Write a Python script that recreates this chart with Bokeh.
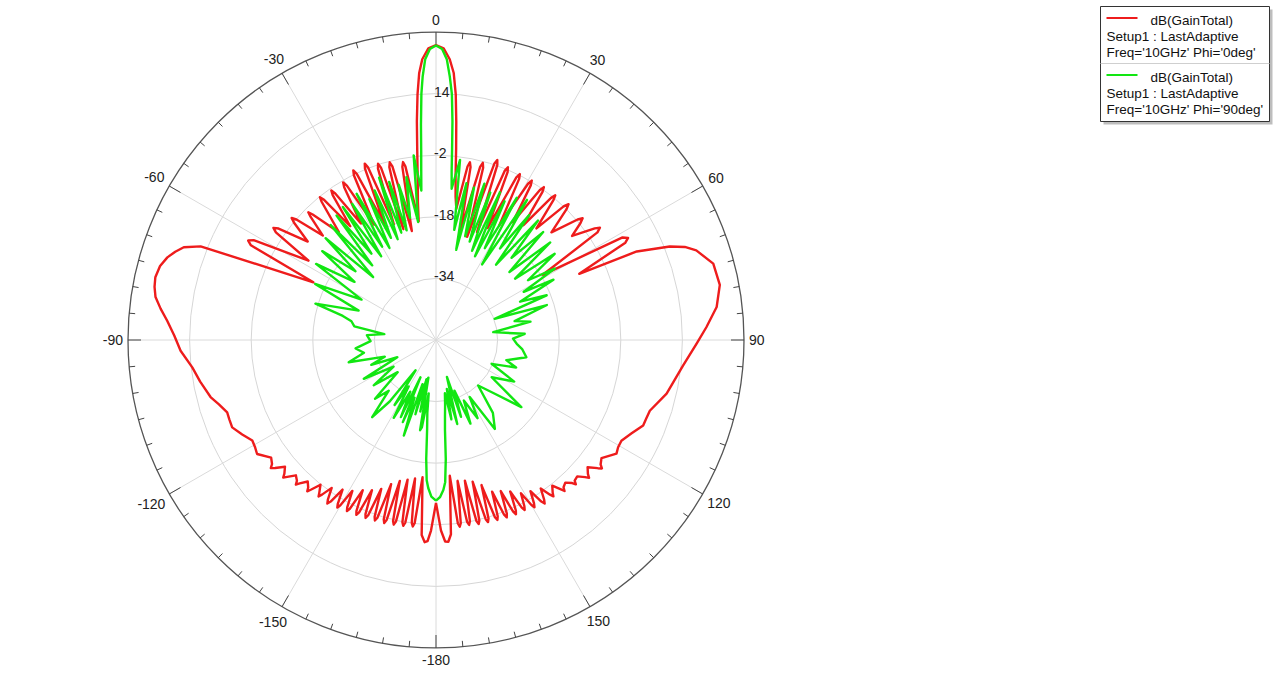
import numpy as np
from bokeh.plotting import figure
from bokeh.embed import file_html
from bokeh.resources import INLINE
from bokeh.core.properties import value

# ---------------- data (theta in degrees, gain in dB) ----------------
# Phi = 0deg, theta -180 .. 0
red_theta_neg = [
    -180, -178.5, -177.6, -176.8, -175.8, -174.4,
    -173.35, -172.9, -172.45, -171.4, -170.45, -170.0, -169.55, -168.5,
    -167.55, -167.1, -166.65, -165.6, -164.65, -164.2, -163.75, -162.7,
    -161.75, -161.3, -160.85, -159.8, -158.85, -158.4, -157.95, -156.9,
    -155.95, -155.5, -155.05, -154.0, -152.95, -152.5, -152.05, -151.0,
    -149.95, -149.5, -149.05, -148.0, -146.9, -146.4, -145.9, -144.8,
    -143.6, -143.1, -142.6, -141.4, -140.1, -139.6, -139.1, -137.8,
    -136.45, -135.9, -135.35, -134.0, -132.6, -132.0, -131.4, -130.0,
    -128.5, -127.8, -127.1, -125.5, -122.5, -120.5, -118.7, -116.0, -113.2, -111.0,
    -109.1, -106.5, -104.2, -100.0, -96.4, -92.4, -89.0, -85.9, -83.5, -81.3, -79.3,
    -77.4, -75.0, -72.9, -71.3, -69.8, -68.3, -64.8,
    -62.9, -62.1, -61.3, -58.1, -56.1, -55.4, -54.7, -52.5, -50.4, -49.8, -49.2, -47.3,
    -45.5, -45.0, -44.5, -42.0, -39.6, -39.1, -38.6, -37.0, -35.5, -35.0, -34.5, -32.8,
    -31.0, -30.5, -30.0, -28.2, -26.5, -26.0, -25.5, -24.0, -22.5, -22.0, -21.5, -20.0,
    -18.7, -18.2, -17.7, -16.4, -15.1, -14.6, -14.1, -12.5, -11.0, -10.5, -10.0,
    -8.3, -7.5, -6.5, -5.6, -5.0, -4.3, -3.6, -2.8, -1.5,
]
red_db_neg = [
    -7.7, -0.5, 2.3, 2.6, 0.8, -14.2,
    -2.1, -1.2, -2.1, -13.6, -1.9, -1.0, -1.9, -13.0,
    -1.7, -0.8, -1.7, -12.2, -1.5, -0.6, -1.5, -10.8,
    -1.4, -0.5, -1.4, -8.8, -1.2, -0.3, -1.2, -7.6,
    -1.0, -0.1, -1.0, -6.6, -0.8, 0.1, -0.8, -5.2,
    -0.4, 0.5, -0.4, -4.2, 0.1, 1.0, 0.1, -3.0,
    -0.1, 0.8, -0.1, -1.9, 0.7, 1.6, 0.7, -0.4,
    1.4, 2.3, 1.4, 0.6, 2.5, 3.4, 2.5, 1.2,
    3.4, 4.3, 3.4, 2.6, 5.1, 4.6, 4.4, 6.0, 7.6, 7.5,
    7.4, 8.8, 10.4, 12.2, 13.7, 16.4, 18.0, 20.0, 22.0, 23.7, 24.4,
    24.7, 24.2, 23.0, 21.5, 19.8, 15.8, -14.8,
    4.0, 5.2, 4.0, -11.0, 0.1, 1.3, 0.1, -8.0, -2.1, -0.9, -2.1, -10.0,
    -4.3, -3.1, -4.3, -12.3, -3.4, -2.2, -3.4, -13.0, -3.8, -2.6, -3.8, -14.0,
    -3.7, -2.5, -3.7, -16.0, -2.2, -1.0, -2.2, -17.0, -1.8, -0.6, -1.8, -18.0,
    -3.0, -1.8, -3.0, -20.0, -3.5, -2.3, -3.5, -21.0, -4.2, -3.0, -4.2,
    -18.8, -14.0, -8.0, 0.0, 7.0, 14.0, 19.5, 23.0, 25.8,
]
# Phi = 0deg, theta 0 .. 180
red_theta_pos = [
    0, 1.5, 2.8, 3.8, 4.6, 5.3, 6.0, 6.8, 7.8, 8.8,
    10.3, 10.8, 11.3, 12.6, 14.3, 14.8, 15.3, 16.8, 18.3, 18.8, 19.3, 20.8,
    22.1, 22.6, 23.1, 24.7, 26.3, 26.8, 27.3, 28.9, 30.5, 31.0, 31.5, 33.1,
    34.7, 35.2, 35.7, 37.3, 39.0, 39.5, 40.0, 42.0, 43.7, 44.3, 44.9, 47.0,
    49.6, 50.3, 51.0, 52.6, 54.9, 55.6, 56.3, 58.6, 61.2, 62.0, 62.8, 65.2,
    66.2, 68.2, 69.5, 71.0, 74.6, 79.0, 83.3, 87.3, 90.8, 95.9, 103.1,
    108.3, 110.5, 112.4, 115.5, 118.5, 120.5, 122.2, 125.5,
    127.1, 127.75, 128.4, 130.0, 131.4, 132.0, 132.6, 134.0, 135.4, 135.9, 136.4, 137.8,
    139.1, 139.6, 140.1, 141.4, 142.6, 143.1, 143.6, 144.8, 145.9, 146.4, 146.9, 148.0,
    149.05, 149.5, 149.95, 151.0, 152.0, 152.45, 152.9, 153.9, 154.9, 155.35, 155.8, 156.8,
    157.8, 158.25, 158.7, 159.7, 160.7, 161.15, 161.6, 162.6, 163.6, 164.05, 164.5, 165.5,
    166.5, 166.95, 167.4, 168.4, 169.4, 169.85, 170.3, 171.3, 172.3, 172.75, 173.2, 174.2,
    175.6, 176.5, 177.4, 178.5, 180,
]
red_db_pos = [
    26.6, 25.8, 23.0, 19.5, 14.0, 7.0, 0.0, -7.0, -12.5, -15.5,
    -4.2, -3.0, -4.2, -21.0, -3.6, -2.4, -3.6, -22.0, -1.8, -0.6, -1.8, -20.0,
    -2.6, -1.4, -2.6, -18.0, -2.9, -1.7, -2.9, -16.0, -2.9, -1.7, -2.9, -13.5,
    -2.6, -1.4, -2.6, -12.5, -2.5, -1.3, -2.5, -11.0, -1.9, -0.7, -1.9, -9.0,
    -1.7, -0.5, -1.7, -5.5, 0.4, 1.6, 0.4, -17.5, 5.3, 6.5, 5.3, -9.0,
    7.0, 15.4, 19.0, 21.5, 24.7, 25.1, 23.4, 20.3, 17.7, 14.5, 11.5,
    8.5, 8.3, 8.2, 6.3, 4.8, 4.9, 5.4, 2.8,
    3.6, 4.5, 3.6, 1.4, 2.6, 3.5, 2.6, 1.0, 1.3, 2.2, 1.3, 0.0,
    0.6, 1.5, 0.6, -1.6, -0.1, 0.8, -0.1, -2.8, 0.1, 1.0, 0.1, -3.7,
    -0.5, 0.4, -0.5, -4.5, -1.1, -0.2, -1.1, -6.2, -1.1, -0.2, -1.1, -7.3,
    -1.3, -0.4, -1.3, -8.0, -1.5, -0.6, -1.5, -10.5, -1.7, -0.8, -1.7, -12.0,
    -1.8, -0.9, -1.8, -12.7, -2.1, -1.2, -2.1, -13.0, -2.0, -1.1, -2.0, -14.6,
    0.6, 2.5, 2.4, -0.5, -7.7,
]

# Phi = 90deg
green_theta = [
    -180, -178.3, -177.0, -176.2, -175.3, -174.3, -173.2, -172.2, -170.8, -170.0, -168.6,
    -167.6, -166.4, -164.5, -163.0, -161.4, -159.5, -158.0, -157.4, -155.5, -153.5, -151.5,
    -149.5, -147.5, -146.0, -143.0, -140.4, -137.0, -134.0, -130.0, -126.0, -122.0, -118.3,
    -114.0, -111.0, -108.0, -104.3, -100.0, -96.0, -91.0, -86.0, -83.5, -80.5, -77.5,
    -75.5, -73.2, -69.2, -65.1, -61.5, -57.6, -54.5, -52.0, -49.5, -47.3, -45.0, -42.5,
    -40.5, -38.6, -36.8, -35.0, -33.2, -31.6, -30.0, -28.5, -26.8, -25.3, -23.8, -22.3,
    -20.8, -19.3, -17.9, -16.5, -15.0, -13.5, -12.0, -10.3, -8.6, -6.9, -5.6, -5.0, -4.5,
    -4.0, -3.4, -2.9, -2.2, -1.2, 0,
    1.2, 2.2, 3.0, 3.7, 4.3, 4.8, 5.3, 5.9, 7.6, 9.4, 11.0, 12.6, 14.0, 15.7, 17.2, 18.9,
    20.2, 22.0, 23.4, 25.0, 26.3, 28.0, 29.6, 31.4, 33.0, 35.0, 36.7, 38.6, 40.5, 42.6,
    44.8, 47.2, 49.5, 52.2, 54.0, 57.0, 59.0, 61.2, 62.8, 65.5, 68.0, 70.2, 72.5, 76.5,
    79.0, 82.2, 86.0, 89.0, 92.7, 96.0, 100.8, 106.0, 109.0, 113.2, 118.0, 123.8, 128.2,
    133.0, 137.2, 142.0, 146.5, 149.4, 152.0, 155.3, 157.6, 160.0, 162.0, 163.5, 165.8,
    167.5, 169.0, 170.5, 172.0, 173.3, 174.3, 175.3, 176.3, 177.2, 178.5, 180,
]
green_db = [
    -8.3, -9.3, -11.5, -13.5, -19.0, -26.8, -31.0, -36.0, -27.0, -26.2, -40.0,
    -31.0, -39.5, -30.0, -38.0, -23.8, -34.0, -27.0, -39.5, -28.0, -35.0, -27.0,
    -36.0, -30.0, -40.5, -30.0, -24.0, -32.0, -28.0, -37.0, -30.0, -37.0, -28.7,
    -39.0, -32.0, -36.0, -26.6, -31.0, -29.0, -33.0, -32.0, -36.5, -28.5, -27.5,
    -25.0, -17.3, -28.5, -15.4, -28.0, -13.1, -24.0, -12.5, -22.5, -11.0, -26.9, -9.5,
    -24.5, -8.6, -22.0, -7.8, -24.0, -8.5, -22.0, -6.8, -23.2, -9.5, -21.0, -8.0,
    -22.0, -5.3, -20.7, -7.2, -20.5, -8.5, -17.6, -7.0, -19.0, -1.7, -11.0, -6.0, -1.0,
    6.0, 14.0, 18.5, 23.0, 25.6, 26.5,
    25.6, 23.0, 18.5, 14.0, 7.0, 0.0, -6.0, -10.5, -2.8, -21.0, -8.5, -26.0, -9.2, -22.0, -7.5, -23.0,
    -9.2, -25.0, -8.2, -26.0, -9.8, -23.0, -7.5, -27.0, -6.6, -21.0, -9.5, -25.0, -9.2, -21.0,
    -10.5, -24.0, -11.0, -24.0, -11.9, -21.5, -14.0, -24.0, -15.7, -26.0, -19.0, -33.8, -19.8, -29.0,
    -25.0, -35.0, -26.9, -30.0, -29.0, -27.5, -26.1, -31.0, -28.0, -34.3, -27.0, -32.6, -21.8,
    -30.0, -33.9, -26.0, -22.3, -32.8, -27.0, -32.7, -26.5, -36.0, -29.0, -40.0, -27.5,
    -37.0, -29.0, -36.0, -33.0, -30.0, -26.5, -19.0, -13.0, -11.0, -9.2, -8.3,
]

ring_values = [-34, -18, -2, 14]
ring_labels = ["-34", "-18", "-2", "14"]
angle_values = [0, 30, 60, 90, 120, 150, 180, -150, -120, -90, -60, -30]
angle_labels = ["0", "30", "60", "90", "120", "150", "-180", "-150", "-120", "-90", "-60", "-30"]
legend_texts = [
    ["dB(GainTotal)", "Setup1 : LastAdaptive", "Freq='10GHz' Phi='0deg'"],
    ["dB(GainTotal)", "Setup1 : LastAdaptive", "Freq='10GHz' Phi='90deg'"],
]
DB_MIN, DB_MAX = -50, 30

# ---------------- geometry ----------------
W, H = 1276, 672
CX, CY = 435.5, 339.5          # polar centre, pixels from figure left / top
R = 308.0                       # outer radius in pixels
K = R / (DB_MAX - DB_MIN)
RED = "#ee1c1c"
GREEN = "#12e612"
FONT = value("Liberation Sans")


def polar_xy(theta_deg, db):
    t = np.radians(np.asarray(theta_deg, dtype=float))
    r = (np.asarray(db, dtype=float) - DB_MIN) * K
    return r * np.sin(t), r * np.cos(t)


def ref(X, Y):
    # screenshot pixel -> data coordinates
    return X - CX, CY - Y


p = figure(width=W, height=H, x_range=(-CX, W - CX), y_range=(-(H - CY), CY),
           output_backend="svg", toolbar_location=None, min_border=0,
           x_axis_location=None, y_axis_location=None)
p.outline_line_color = None
p.grid.visible = False
p.background_fill_color = "white"
p.border_fill_color = "white"

# grid rings
radii = [(v - DB_MIN) * K for v in ring_values]
p.circle(x=[0] * len(radii), y=[0] * len(radii), radius=radii,
         fill_color=None, line_color="#d6d6d6", line_width=1)

# radial spokes every 30 deg
sp = np.radians(np.arange(0, 360, 30))
p.segment(x0=0, y0=0, x1=R * np.sin(sp), y1=R * np.cos(sp), line_color="#dadada", line_width=1)

# outer circle
p.circle(x=[0], y=[0], radius=[R], fill_color=None, line_color="#555555", line_width=1.3)

# ticks
tk = np.arange(0, 360, 5)
tl = np.where(tk % 30 == 0, 13.0, 6.0)
tr = np.radians(tk)
p.segment(x0=R * np.sin(tr), y0=R * np.cos(tr), x1=(R - tl) * np.sin(tr), y1=(R - tl) * np.cos(tr),
          line_color="#444444", line_width=1)

# angle labels
FS = 14.0
def tw(s):
    return sum(0.333 * FS if c == "-" else 0.556 * FS for c in s)

lx, ly = [], []
for a, s in zip(angle_values, angle_labels):
    t = np.radians(a)
    rr = R + 5 + tw(s) / 2 * abs(np.sin(t)) + 7 * abs(np.cos(t))
    lx.append(rr * np.sin(t))
    ly.append(rr * np.cos(t))
p.text(x=lx, y=ly, text=angle_labels, text_align="center", text_baseline="middle",
       text_font=FONT, text_font_size="14px", text_color="#222222")

# ring labels
p.text(x=[-2] * len(radii), y=[r + 2 for r in radii], text=ring_labels, text_align="left",
       text_baseline="middle", text_font=FONT, text_font_size="14px", text_color="#222222")

# curves
rx, ry = polar_xy(red_theta_neg + red_theta_pos, red_db_neg + red_db_pos)
gx, gy = polar_xy(green_theta, green_db)
p.line(rx, ry, line_color=RED, line_width=2.4, line_join="round")
p.line(gx, gy, line_color=GREEN, line_width=2.4, line_join="round")

# legend box
bl, bt = ref(1100, 6)
br, bb = ref(1269, 121)
p.quad(left=[bl + 3], right=[br + 3], top=[bt - 3], bottom=[bb - 3], fill_color="#bdbdbd",
       line_color=None)
p.quad(left=[bl], right=[br], top=[bt], bottom=[bb], fill_color="white",
       line_color="#333333", line_width=1)
sy = ref(1100, 63)[1]
p.segment(x0=[bl], y0=[sy], x1=[br], y1=[sy], line_color="#cfcfcf", line_width=1)

colors = [RED, GREEN]
for i, lines in enumerate(legend_texts):
    y0 = 19.5 + i * 57
    x1, y1 = ref(1106, y0 - 2)
    x2 = ref(1137, y0 - 2)[0]
    p.line([x1, x2], [y1, y1], line_color=colors[i], line_width=2)
    tx = [ref(1150, 0)[0], ref(1106, 0)[0], ref(1106, 0)[0]]
    ty = [ref(0, y0 + k * 16)[1] for k in range(3)]
    p.text(x=tx, y=ty, text=lines, text_align="left", text_baseline="middle",
           text_font=FONT, text_font_size="13.5px", text_color="#111111")

open("out.html", "w").write(file_html(p, INLINE))
